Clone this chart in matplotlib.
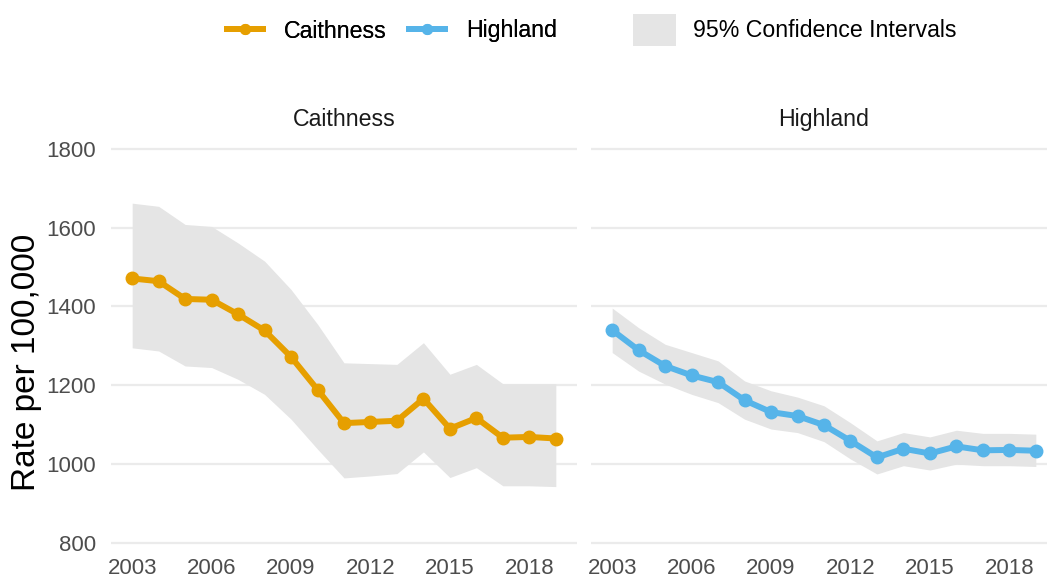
import matplotlib
matplotlib.use("Agg")
import matplotlib.pyplot as plt
from matplotlib.lines import Line2D
from matplotlib.patches import Patch

years = list(range(2003, 2020))

caithness = [1471, 1464, 1419, 1417, 1380, 1339, 1272, 1189, 1104, 1107, 1110,
             1166, 1090, 1117, 1067, 1069, 1065]
caithness_upper = [1662, 1654, 1608, 1603, 1561, 1515, 1443, 1355, 1257, 1255, 1253,
                   1308, 1228, 1253, 1204, 1204, 1204]
caithness_lower = [1295, 1287, 1249, 1245, 1215, 1177, 1114, 1038, 965, 970, 976,
                   1031, 966, 991, 945, 945, 943]

highland = [1340, 1289, 1249, 1225, 1208, 1162, 1132, 1122, 1099, 1059, 1017,
            1039, 1027, 1045, 1035, 1036, 1034]
highland_upper = [1396, 1346, 1304, 1283, 1262, 1211, 1186, 1170, 1148, 1105, 1059,
                  1080, 1069, 1086, 1078, 1078, 1076]
highland_lower = [1283, 1236, 1203, 1177, 1156, 1114, 1089, 1080, 1057, 1013, 975,
                  996, 985, 1000, 996, 996, 994]

xticks = [2003, 2006, 2009, 2012, 2015, 2018]
yticks = [800, 1000, 1200, 1400, 1600, 1800]

orange = "#E69F00"
blue = "#56B4E9"
ci_grey = "#E5E5E5"
grid_col = "#EBEBEB"
tick_col = "#4D4D4D"

plt.rcParams['font.family'] = ['Liberation Sans', 'DejaVu Sans']

W, H = 1047, 578
fig = plt.figure(figsize=(W / 100, H / 100), dpi=100)

# panel positions in pixels
top_px, bot_px = 133, 554
panels = [(111, 577), (591, 1057)]

series = [
    ("Caithness", caithness, caithness_lower, caithness_upper, orange),
    ("Highland", highland, highland_lower, highland_upper, blue),
]

axes = []
for (l, r), (name, vals, lo, hi, col) in zip(panels, series):
    ax = fig.add_axes([l / W, 1 - bot_px / H, (r - l) / W, (bot_px - top_px) / H])
    ax.fill_between(years, lo, hi, color=ci_grey, linewidth=0, zorder=1)
    ax.plot(years, vals, color=col, linewidth=4.3, marker="o", markersize=9,
            zorder=3, solid_capstyle="round")
    ax.set_xlim(2002.2, 2019.8)
    ax.set_ylim(772, 1840)
    ax.set_xticks(xticks)
    ax.set_yticks(yticks)
    ax.grid(axis="y", color=grid_col, linewidth=1.6, zorder=0)
    ax.grid(axis="x", visible=False)
    ax.set_axisbelow(True)
    for s in ax.spines.values():
        s.set_visible(False)
    ax.tick_params(length=0, labelsize=16, labelcolor=tick_col)
    ax.tick_params(axis="x", pad=3)
    ax.tick_params(axis="y", pad=11)
    ax.set_title(name, fontsize=16.7, color="#1A1A1A", pad=5)
    axes.append(ax)

axes[1].tick_params(labelleft=False)
axes[0].set_ylabel("Rate per 100,000", fontsize=24, color="black")
axes[0].yaxis.set_label_coords(-0.148, 0.456)

line_handles = [
    Line2D([], [], color=orange, linewidth=4.3, marker="o", markersize=7),
    Line2D([], [], color=blue, linewidth=4.3, marker="o", markersize=7),
]
leg1 = fig.legend(line_handles, ["Caithness", "Highland"], ncol=2,
                  loc="center", bbox_to_anchor=(392 / W, 1 - 31 / H),
                  frameon=False, fontsize=16.7, handlelength=1.55,
                  columnspacing=0.95, handletextpad=0.9)
fig.add_artist(leg1)
fig.legend([Patch(facecolor=ci_grey, edgecolor="none")], ["95% Confidence Intervals"],
           loc="center", bbox_to_anchor=(795 / W, 1 - 30 / H), frameon=False,
           fontsize=16.7, handlelength=1.85, handleheight=1.8, handletextpad=0.75)

fig.savefig("out.png", dpi=100)
